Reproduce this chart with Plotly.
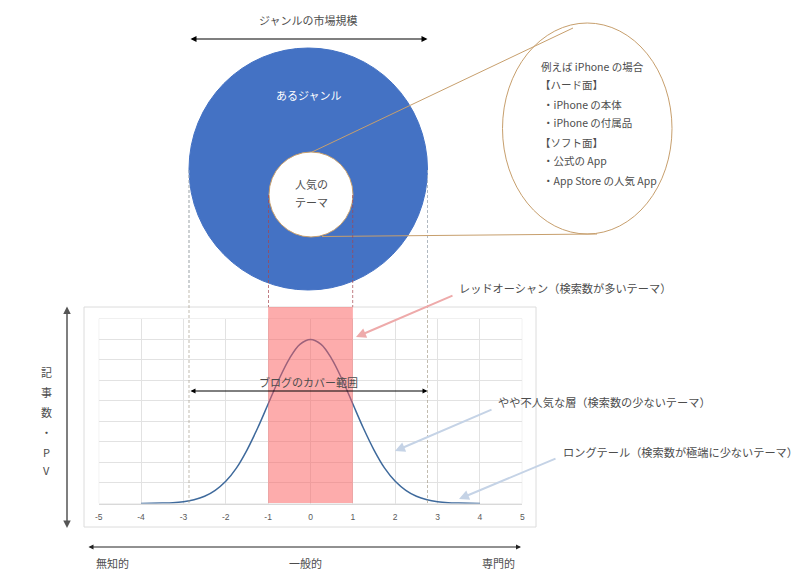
import plotly.graph_objects as go

W, H = 800, 576

# curve
curve_x = [-4, -3.75, -3.5, -3.25, -3, -2.75, -2.5, -2.25, -2, -1.75, -1.5, -1.25, -1, -0.75, -0.5, -0.25,
           0, 0.25, 0.5, 0.75, 1, 1.25, 1.5, 1.75, 2, 2.25, 2.5, 2.75, 3, 3.25, 3.5, 3.75, 4]
curve_y = [0.0001, 0.0004, 0.001, 0.002, 0.0044, 0.009, 0.0175, 0.032, 0.054, 0.086, 0.13, 0.183, 0.242, 0.301, 0.352, 0.387,
           0.399, 0.387, 0.352, 0.301, 0.242, 0.183, 0.13, 0.086, 0.054, 0.032, 0.0175, 0.009, 0.0044, 0.002, 0.001, 0.0004, 0.0001]
x_ticks = [-5, -4, -3, -2, -1, 0, 1, 2, 3, 4, 5]

title_text = "ジャンルの市場規模"
genre_text = "あるジャンル"
popular_lines = ["人気の", "テーマ"]
example_lines = ["例えば iPhone の場合", "【ハード面】", "・iPhone の本体", "・iPhone の付属品",
                 "【ソフト面】", "・公式の App", "・App Store の人気 App"]
cover_text = "ブログのカバー範囲"
red_text = "レッドオーシャン（検索数が多いテーマ）"
mid_text = "やや不人気な層（検索数の少ないテーマ）"
tail_text = "ロングテール（検索数が極端に少ないテーマ）"
y_title = ["記", "事", "数", "・", "P", "V"]
x_labels = ["無知的", "一般的", "専門的"]

FONT = "Noto Sans CJK JP"
TEXT = "#4d4d4d"
TAN = "#c79f6d"
GRID = "#e2e2e2"
DASH = "3px,2px"


def px(x):
    return x / W


def py(y):
    return 1 - y / H


def circle(x0, y0, x1, y1, fill, line, width=1):
    return dict(type="circle", xref="paper", yref="paper", x0=px(x0), x1=px(x1), y0=py(y1), y1=py(y0),
                fillcolor=fill, line=dict(color=line, width=width), layer="above")


def seg(x0, y0, x1, y1, color, width=1, dash="solid"):
    return dict(type="line", xref="paper", yref="paper", x0=px(x0), x1=px(x1), y0=py(y0), y1=py(y1),
                line=dict(color=color, width=width, dash=dash), layer="above")


def label(x, y, text, size=11, color=TEXT, anchor="center"):
    return dict(x=px(x), y=py(y), xref="paper", yref="paper", text=text, showarrow=False,
                xanchor=anchor, yanchor="middle", font=dict(family=FONT, size=size, color=color))


def arrow(x0, y0, x1, y1, color="#000000", width=1, side="end", size=1):
    # ax/ay are pixel offsets from the head back to the tail
    return dict(x=px(x1), y=py(y1), ax=x0 - x1, ay=y0 - y1, xref="paper", yref="paper", axref="pixel", ayref="pixel",
                text="", showarrow=True, arrowhead=2, arrowside=side, arrowsize=size, arrowwidth=width,
                arrowcolor=color, standoff=0, startstandoff=0, startarrowhead=2, startarrowsize=size)


fig = go.Figure()
fig.add_trace(go.Scatter(x=curve_x, y=curve_y, mode="lines", line=dict(color="#3f6a9c", width=1.5, shape="spline"),
                         showlegend=False, hoverinfo="skip"))

shapes = [
    # chart frame sits under everything
    dict(type="rect", xref="paper", yref="paper", x0=px(84), x1=px(536), y0=py(527), y1=py(307),
         fillcolor="rgba(0,0,0,0)", line=dict(color="#dcdcdc", width=1), layer="below"),
    # plotly skips gridlines on the range edges, so box them in
    dict(type="rect", xref="x", yref="y", x0=x_ticks[0], x1=x_ticks[-1], y0=0, y1=0.45,
         fillcolor="rgba(0,0,0,0)", line=dict(color=GRID, width=1), layer="below"),
    # dashed drop lines
    seg(189, 170, 189, 503, "#a89f8c", 0.7, DASH),
    seg(427.5, 170, 427.5, 503, "#a89f8c", 0.7, DASH),
    # red band
    dict(type="rect", xref="x", yref="paper", x0=-1, x1=1, y0=py(503), y1=py(307),
         fillcolor="rgba(252,90,90,0.5)", line=dict(width=0), layer="above"),
    # circles
    circle(189, 48, 427.5, 290, "#4472c4", "#4472c4"),
    seg(427.5, 170, 427.5, 290, "#a8b8c8", 0.7, DASH),
    seg(189, 170, 189, 290, "#a8b8c8", 0.7, DASH),
    circle(502.5, 23, 672, 234, "#ffffff", TAN),
    seg(312, 152, 573, 28, TAN),
    seg(322, 236.5, 597, 234, TAN),
    circle(269, 152, 353, 237, "#ffffff", TAN),
    seg(268.5, 195, 268.5, 307, "#a5464f", 0.7, DASH),
    seg(352.7, 195, 352.7, 307, "#a5464f", 0.7, DASH),
]

ann = [
    label(308, 20, title_text),
    label(308, 95, genre_text, color="#ffffff"),
    label(311, 184, popular_lines[0]),
    label(311, 202, popular_lines[1]),
    label(308, 382, cover_text),
    label(457, 288, red_text, size=11.2, anchor="left"),
    label(496, 402, mid_text, size=11.2, anchor="left"),
    label(561, 452, tail_text, size=11.2, anchor="left"),
    label(112, 563, x_labels[0]),
    label(305, 563, x_labels[1]),
    label(498, 563, x_labels[2]),
    arrow(189, 39, 427.5, 39, width=1.2, side="end+start"),
    arrow(189, 391, 427.5, 391, width=1, side="end+start"),
    arrow(67, 305, 67, 528, color="#555555", width=1.5, side="end+start"),
    arrow(87, 547, 521, 547, color="#222222", width=1, side="end+start"),
    arrow(454, 295, 356, 337, color="#eeaaaa", width=2),
    arrow(493, 409, 395, 451, color="#c5d3e6", width=2),
    arrow(557, 458, 459, 499, color="#c5d3e6", width=2),
]

example_x = [539, 538, 541, 541, 538, 541, 541]
example_y = [66, 85, 104, 122, 142, 161, 180]
for ex, ey, line in zip(example_x, example_y, example_lines):
    ann.append(label(ex, ey, line, size=10.5, anchor="left"))

y_title_y = [372, 392, 412, 432, 452, 470]
for yy, ch in zip(y_title_y, y_title):
    ann.append(label(46, yy, ch))

fig.update_layout(
    width=W, height=H, margin=dict(l=0, r=0, t=0, b=0),
    paper_bgcolor="#ffffff", plot_bgcolor="#ffffff", showlegend=False,
    shapes=shapes, annotations=ann,
    xaxis=dict(domain=[px(98.7), px(522.3)], range=[-5, 5], tickvals=x_ticks, ticktext=[str(t) for t in x_ticks],
               automargin=False,
               showgrid=True, gridcolor=GRID, gridwidth=1, zeroline=False, showline=True, linecolor="#d9d9d9",
               ticks="outside", ticklen=5, tickcolor="rgba(0,0,0,0)",
               tickfont=dict(family="Liberation Sans", size=8.5, color="#595959")),
    yaxis=dict(domain=[py(503.5), py(318.5)], range=[0, 0.45], dtick=0.05, showticklabels=False,
               automargin=False,
               showgrid=True, gridcolor=GRID, gridwidth=1, zeroline=False, showline=False),
)

# page margin would push the fixed-size figure off the window
fig.write_html("out.html", config={"displayModeBar": False}, post_script="document.body.style.margin='0';")
